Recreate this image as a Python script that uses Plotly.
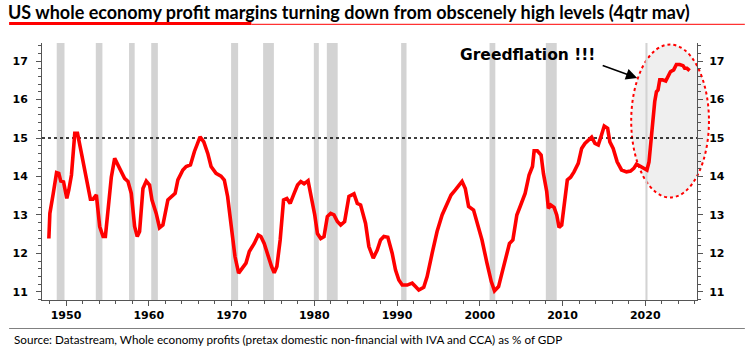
import plotly.graph_objects as go

years = [1947.93, 1948.05, 1948.46, 1948.86, 1949.13, 1949.37, 1949.70, 1950.10, 1950.34, 1950.66,
         1951.06, 1951.39, 1951.87, 1952.47, 1952.95, 1953.27, 1953.67, 1954.07, 1954.48, 1954.76,
         1955.16, 1955.48, 1955.88, 1956.48, 1957.08, 1957.49, 1957.89, 1958.29, 1958.61, 1958.89,
         1959.30, 1959.70, 1960.10, 1960.39, 1960.90, 1961.30, 1961.71, 1962.31, 1962.71, 1963.19,
         1963.52, 1964.12, 1964.52, 1965.04, 1965.52, 1965.93, 1966.20, 1966.65, 1967.13, 1967.53,
         1968.13, 1968.73, 1969.13, 1969.53, 1969.94, 1970.42, 1970.86, 1971.35, 1971.75, 1972.15,
         1972.75, 1973.23, 1973.55, 1973.95, 1974.43, 1974.84, 1975.16, 1975.48, 1975.88, 1976.29,
         1976.69, 1977.09, 1977.57, 1977.98, 1978.37, 1978.77, 1979.25, 1979.66, 1980.06, 1980.38,
         1980.78, 1981.18, 1981.58, 1981.98, 1982.38, 1982.79, 1983.19, 1983.67, 1984.19, 1984.80,
         1985.20, 1985.60, 1986.20, 1986.60, 1987.13, 1987.61, 1988.01, 1988.41, 1988.89, 1989.42,
         1989.82, 1990.22, 1990.63, 1991.23, 1991.83, 1992.23, 1992.63, 1993.23, 1993.64, 1994.24,
         1994.84, 1995.45, 1996.05, 1996.53, 1997.05, 1997.45, 1997.86, 1998.25, 1998.65, 1999.25,
         1999.74, 2000.27, 2000.87, 2001.39, 2001.78, 2002.27, 2002.68, 2003.07, 2003.59, 2004.00,
         2004.48, 2004.88, 2005.48, 2005.96, 2006.37, 2006.57, 2006.96, 2007.41, 2007.69, 2008.09,
         2008.29, 2008.58, 2008.98, 2009.30, 2009.58, 2009.90, 2010.18, 2010.58, 2010.98, 2011.39,
         2011.90, 2012.31, 2012.71, 2013.11, 2013.52, 2013.92, 2014.32, 2014.64, 2015.04, 2015.45,
         2015.72, 2016.12, 2016.60, 2017.13, 2017.73, 2018.22, 2018.61, 2018.94, 2019.34, 2019.73,
         2020.20, 2020.45, 2020.75, 2021.14, 2021.35, 2021.54, 2021.75, 2022.07, 2022.47, 2022.75,
         2023.04, 2023.43, 2023.76, 2024.16, 2024.56, 2024.76, 2025.04, 2025.36]

margins = [12.39, 13.04, 13.56, 14.10, 14.08, 13.88, 13.86, 13.43, 13.65, 14.04,
           15.12, 15.12, 14.60, 13.90, 13.41, 13.41, 13.52, 12.70, 12.44, 12.44,
           13.39, 13.99, 14.47, 14.21, 13.95, 13.87, 13.56, 12.70, 12.44, 12.57,
           13.69, 13.88, 13.78, 13.39, 13.04, 12.67, 12.74, 13.39, 13.48, 13.56,
           13.91, 14.17, 14.26, 14.30, 14.65, 14.90, 15.03, 14.90, 14.60, 14.26,
           14.08, 14.01, 13.91, 13.48, 12.78, 11.92, 11.49, 11.62, 11.75, 12.05,
           12.26, 12.48, 12.44, 12.26, 11.92, 11.66, 11.50, 11.66, 12.35, 13.39,
           13.43, 13.30, 13.56, 13.78, 13.87, 13.81, 13.89, 13.48, 13.00, 12.52,
           12.39, 12.44, 12.96, 13.04, 13.00, 12.83, 12.74, 12.83, 13.48, 13.55,
           13.30, 13.26, 12.78, 12.18, 11.88, 12.09, 12.35, 12.44, 12.42, 12.00,
           11.57, 11.31, 11.18, 11.18, 11.23, 11.14, 11.05, 11.12, 11.40, 12.00,
           12.57, 13.00, 13.30, 13.52, 13.65, 13.75, 13.87, 13.69, 13.22, 13.13,
           12.78, 12.35, 11.75, 11.27, 11.03, 11.14, 11.49, 11.83, 12.26, 12.35,
           13.00, 13.22, 13.56, 14.04, 14.26, 14.67, 14.67, 14.56, 14.08, 13.61,
           13.17, 13.26, 13.20, 13.00, 12.68, 12.74, 13.22, 13.91, 13.98, 14.12,
           14.34, 14.73, 14.86, 14.93, 15.02, 14.86, 14.82, 15.03, 15.31, 15.25,
           14.90, 14.73, 14.38, 14.17, 14.12, 14.14, 14.21, 14.32, 14.27, 14.21,
           14.17, 14.38, 15.08, 15.94, 16.20, 16.25, 16.51, 16.51, 16.48, 16.59,
           16.72, 16.77, 16.91, 16.91, 16.88, 16.81, 16.81, 16.75]

rec_start = [1948.88, 1953.6, 1957.62, 1960.3, 1969.95, 1973.82, 1979.95, 1981.52, 1990.5, 2001.18, 2007.98, 2020.02]
rec_end = [1949.82, 1954.4, 1958.3, 1961.1, 1970.8, 1975.12, 1980.55, 1982.83, 1991.15, 2001.88, 2009.3, 2020.27]

ref_level = 15
x_ticks = [1950, 1960, 1970, 1980, 1990, 2000, 2010, 2020]
y_ticks = [11, 12, 13, 14, 15, 16, 17]

title_text = "US whole economy profit margins turning down from obscenely high levels (4qtr mav)"
source_text = "Source: Datastream, Whole economy profits (pretax domestic non-financial with IVA and CCA) as % of GDP"
note_text = "Greedflation !!!"

W, H = 751, 353
L, R, T, B = 40, 54, 43, 53
PW, PH = W - L - R, H - T - B


def px(xp):
    return (xp - L) / PW


def py(yp):
    return (H - B - yp) / PH


fig = go.Figure()
fig.add_trace(go.Scatter(x=years, y=margins, mode="lines",
                         line=dict(color="#ff0000", width=3.6), showlegend=False, hoverinfo="skip"))
fig.add_trace(go.Scatter(x=years, y=margins, mode="lines", yaxis="y2",
                         line=dict(color="rgba(0,0,0,0)", width=0), showlegend=False, hoverinfo="skip"))

shapes = []
shapes.append(dict(type="circle", xref="paper", yref="paper",
                   x0=px(631), x1=px(709), y0=py(197.5), y1=py(44.5),
                   fillcolor="#efefef", line=dict(color="#ff0000", width=2, dash="dot"), layer="below"))
for s, e in zip(rec_start, rec_end):
    shapes.append(dict(type="rect", xref="x", yref="paper", x0=s, x1=e, y0=0, y1=1,
                       fillcolor="#d3d3d3", line=dict(width=0), layer="below"))
shapes.append(dict(type="line", xref="paper", yref="y", x0=0, x1=1, y0=ref_level, y1=ref_level,
                   line=dict(color="black", width=1.6, dash="dot"), layer="below"))
shapes.append(dict(type="line", xref="paper", yref="paper", x0=px(7), x1=px(250), y0=py(23.5), y1=py(23.5),
                   line=dict(color="#ff0000", width=3)))
shapes.append(dict(type="line", xref="paper", yref="paper", x0=px(250), x1=px(745), y0=py(24.3), y1=py(24.3),
                   line=dict(color="#ff0000", width=1)))
shapes.append(dict(type="line", xref="paper", yref="paper", x0=px(7), x1=px(745), y0=py(328.5), y1=py(328.5),
                   line=dict(color="#808080", width=1.2)))

annotations = [
    dict(text=note_text, xref="paper", yref="paper", x=px(527), y=py(55), showarrow=False,
         xanchor="center", yanchor="middle",
         font=dict(family="DejaVu Sans", size=15.5, color="black", weight="bold")),
    dict(text="", xref="paper", yref="paper", x=px(637), y=py(78), showarrow=True,
         ax=-36, ay=-13, axref="pixel", ayref="pixel", arrowhead=2, arrowsize=1.5, arrowwidth=1.5,
         arrowcolor="black", standoff=0),
    dict(text=source_text, xref="paper", yref="paper", x=px(10), y=py(339), showarrow=False,
         xanchor="left", yanchor="middle",
         font=dict(family="Lato, Roboto, sans-serif", size=11.7, color="black")),
]

axis_font = dict(family="DejaVu Sans", size=11, color="black", weight="bold")
fig.update_layout(
    width=W, height=H,
    margin=dict(l=L, r=R, t=T, b=B),
    paper_bgcolor="white", plot_bgcolor="rgba(0,0,0,0)",
    title=dict(text=title_text, xref="container", yref="container", x=8 / W, y=1 - 13 / H,
               xanchor="left", yanchor="middle",
               font=dict(family="Lato, Roboto, sans-serif", size=18, color="black", weight="bold")),
    shapes=shapes, annotations=annotations,
    xaxis=dict(range=[1947.1, 2026.25], tickvals=x_ticks, ticktext=[str(v) for v in x_ticks],
               showgrid=False, zeroline=False, showline=True, linecolor="#555", linewidth=1,
               ticks="outside", ticklen=5, tickcolor="#555", tickfont=axis_font,
               minor=dict(dtick=2, tick0=1950, ticks="outside", ticklen=3, tickcolor="#555", showgrid=False)),
    yaxis=dict(range=[10.792, 17.4675], tickvals=y_ticks, showgrid=False, zeroline=False,
               showline=True, linecolor="#555", linewidth=1, ticks="outside", ticklen=5,
               tickcolor="#555", tickfont=axis_font, ticklabelstandoff=6,
               minor=dict(dtick=0.2, tick0=11, ticks="outside", ticklen=3, tickcolor="#555", showgrid=False)),
    yaxis2=dict(range=[10.792, 17.4675], overlaying="y", side="right", tickvals=y_ticks,
                showgrid=False, zeroline=False, showline=True, linecolor="#555", linewidth=1,
                ticks="outside", ticklen=5, tickcolor="#555", tickfont=axis_font, ticklabelstandoff=4,
                minor=dict(dtick=0.2, tick0=11, ticks="outside", ticklen=3, tickcolor="#555", showgrid=False)),
)

fig.write_html("out.html")
